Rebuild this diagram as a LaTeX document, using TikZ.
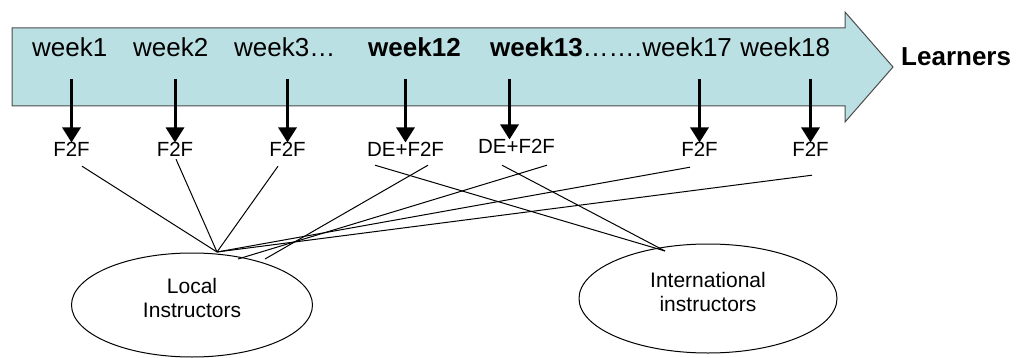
\documentclass[tikz,border=0pt]{standalone}
\usepackage{fontspec}
\setmainfont{Liberation Sans}
\usetikzlibrary{arrows.meta,calc,shapes.geometric}
\definecolor{bandblue}{RGB}{187,224,227}

\begin{document}
\begin{tikzpicture}[x=1pt, y=-1pt]
  \tikzset{>={Triangle[length=15pt,width=18pt]}}
  \tikzset{wk/.style={anchor=base west, inner sep=0pt, font=\fontsize{26}{31}\selectfont}}
  \tikzset{mode/.style={anchor=base, inner sep=0pt, font=\fontsize{20.5}{24}\selectfont}}
  \tikzset{who/.style={draw, ellipse, line width=1pt, align=center, text depth=14pt,
    font=\fontsize{21}{24}\selectfont}}
  \tikzset{link/.style={line width=1pt}}
  \useasboundingbox (0,0) rectangle (1016,358);
  %
  % the time line
  \draw [fill=bandblue, draw=black!70, line width=1pt] (12,28) -- (845,28) -- (845,12)
    -- (893,67) -- (845,122) -- (845,106) -- (12,106) -- cycle;
  \node [wk] (w1)  at (32,57)  {week1};
  \node [wk] (w2)  at (133,57) {week2};
  \node [wk] (w3)  at (234,57) {week3…};
  \node [wk] (w12) at (368,57) {\bfseries week12};
  \node [wk] (w13) at (490,57) {\textbf{week13}…….};
  \node [wk] (w17) at (w13.base east) {week17};
  \node [wk, xshift=8pt] (w18) at (w17.base east) {week18};
  \node [wk, font=\fontsize{26}{31}\selectfont\bfseries] (learn) at (901,66) {Learners};
  %
  % delivery mode of each week
  \node [mode] (f1)   at (71.5,157)  {F2F};
  \node [mode] (f2)   at (175,157)   {F2F};
  \node [mode] (f3)   at (287.5,157) {F2F};
  \node [mode] (de12) at (405.5,157) {DE+F2F};
  \node [mode] (de13) at (516.5,154) {DE+F2F};
  \node [mode] (f17)  at (699.5,157) {F2F};
  \node [mode] (f18)  at (810.5,157) {F2F};
  \foreach \w/\f/\dx in {w1/f1/0, w2/f2/0, w3/f3/0, w12/de12/0, w13/de13/-7, w17/f17/0, w18/f18/0} {
    \draw [->, line width=3pt] ($(\f.north |- \w.south)+(\dx,22)$) -- ($(\f.north)+(\dx,0)$);
  }
  %
  % instructors
  \node [who, minimum width=241pt, minimum height=104pt] (loc) at (192,305) {Local\\Instructors};
  \node [who, minimum width=258pt, minimum height=109pt] (intl) at (708,298.5)
    {International\\instructors};
  \coordinate (lochub)  at ($(loc.center)+(25,-53)$);
  \coordinate (intlhub) at ($(intl.center)+(-43,-47.5)$);
  %
  \foreach \f/\sx/\sy in {f1/10.5/9, f2/1/2, f3/-9.5/9, f17/-9.5/10, f18/1.5/18} {
    \draw [link] ($(\f.south)+(\sx,\sy)$) -- (lochub);
  }
  \draw [link] ($(de12.south)+(22.5,8)$) -- ($(loc.center)+(73,-46)$);
  \draw [link] ($(de13.south)+(30.5,11)$) -- ($(loc.center)+(46,-46)$);
  \foreach \f/\sx/\sy in {de12/-30.5/8, de13/-14.5/11} {
    \draw [link] ($(\f.south)+(\sx,\sy)$) -- (intlhub);
  }
\end{tikzpicture}
\end{document}
